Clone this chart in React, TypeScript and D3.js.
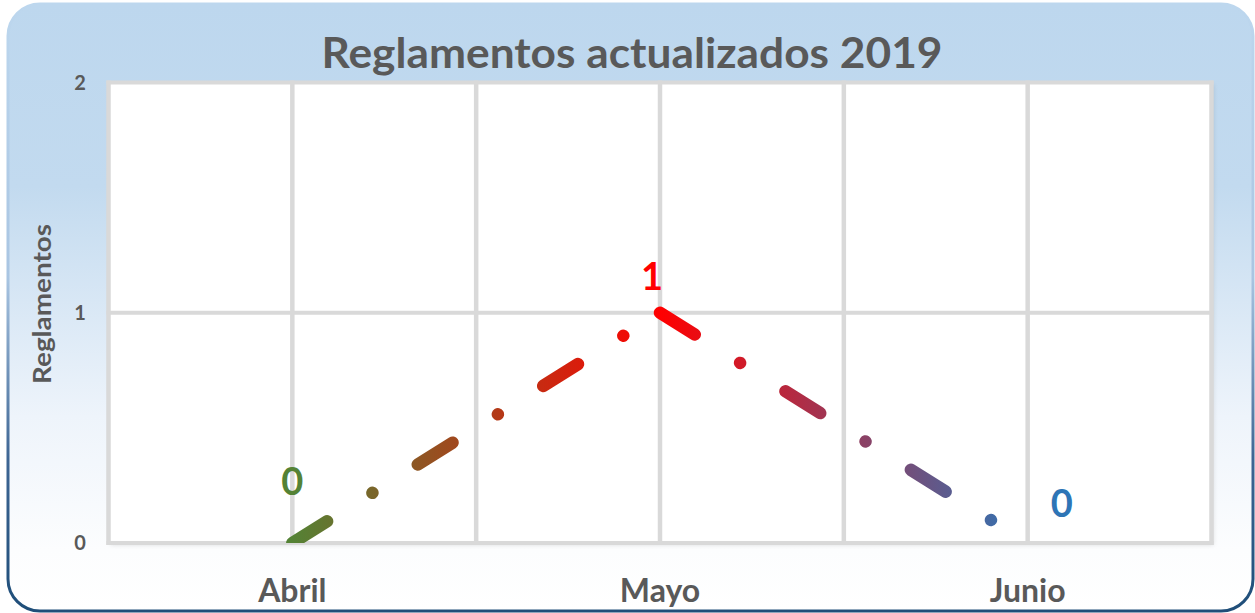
import React from 'react';
import * as d3 from 'd3';

// chart data
const categories = ['Abril', 'Mayo', 'Junio'];
const values = [0, 1, 0];
const yTicks = [0, 1, 2];
const gradientColors = ['#548235', '#ff0000', '#2e75b6'];
const title = 'Reglamentos actualizados 2019';
const yTitle = 'Reglamentos';

const W = 1255;
const H = 613;
const plot = { left: 108.5, right: 1211.5, top: 82.5, bottom: 543 };
const FONT = 'Lato, "Open Sans", sans-serif';
const GRAY = '#595959';
const GRID = '#d9d9d9';

// label placement relative to each point (Excel puts them by hand)
const labelOffsets = [
  { dx: 0, dy: -48 },
  { dx: -8, dy: -23 },
  { dx: 34, dy: -26 },
];

const App = () => {
  const x = d3.scaleBand().domain(categories).range([plot.left, plot.right]).padding(0);
  const y = d3.scaleLinear().domain([0, 2]).range([plot.bottom, plot.top]);
  const cx = (c: string) => (x(c) as number) + x.bandwidth() / 2;

  const points: [number, number][] = categories.map((c, i) => [cx(c), y(values[i])]);
  const line = d3.line();
  const segments = d3.pairs(points);

  // vertical gridlines at every half band
  const vLines: number[] = [];
  categories.forEach((c) => {
    vLines.push(x(c) as number);
    vLines.push(cx(c));
  });
  vLines.push(plot.right);

  return (
    <svg width={W} height={H} style={{ position: 'absolute', left: 0, top: 0 }}>
      <defs>
        <linearGradient id="bg" x1="0" y1="0" x2="0" y2="1">
          <stop offset="0" stopColor="#bdd7ee" />
          <stop offset="0.3" stopColor="#c2daef" />
          <stop offset="0.68" stopColor="#eef4fb" />
          <stop offset="0.9" stopColor="#fcfdfe" />
          <stop offset="1" stopColor="#ffffff" />
        </linearGradient>
        <linearGradient id="border" x1="0" y1="0" x2="0" y2="1">
          <stop offset="0" stopColor="#bdd7ee" />
          <stop offset="0.45" stopColor="#a9c5e2" />
          <stop offset="0.75" stopColor="#3d6593" />
          <stop offset="1" stopColor="#1f4e79" />
        </linearGradient>
        <linearGradient
          id="lineGrad"
          gradientUnits="userSpaceOnUse"
          x1={points[0][0]}
          y1={0}
          x2={points[points.length - 1][0]}
          y2={0}
        >
          {gradientColors.map((col, i) => (
            <stop key={i} offset={i / (gradientColors.length - 1)} stopColor={col} />
          ))}
        </linearGradient>
        <clipPath id="plotClip">
          <rect x={plot.left} y={plot.top} width={plot.right - plot.left} height={plot.bottom - plot.top} />
        </clipPath>
        <filter id="shadow" x="-5%" y="-5%" width="110%" height="110%">
          <feDropShadow dx="2" dy="2" stdDeviation="2" floodColor="#000" floodOpacity="0.12" />
        </filter>
      </defs>

      <rect x={8} y={4} width={W - 10} height={H - 6} rx={32} ry={32} fill="url(#bg)" stroke="url(#border)" strokeWidth={3} />

      <text
        x={632}
        y={68}
        textAnchor="middle"
        fontFamily={FONT}
        fontWeight={700}
        fontSize={42}
        fill={GRAY}
        textLength={621}
        lengthAdjust="spacingAndGlyphs"
      >
        {title}
      </text>

      {/* plot area */}
      <rect
        x={plot.left}
        y={plot.top}
        width={plot.right - plot.left}
        height={plot.bottom - plot.top}
        fill="#fff"
        filter="url(#shadow)"
      />
      {yTicks.map((t) => (
        <line key={'h' + t} x1={plot.left - 2} x2={plot.right + 2} y1={y(t)} y2={y(t)} stroke={GRID} strokeWidth={4} />
      ))}
      {vLines.map((v, i) => (
        <line key={'v' + i} x1={v} x2={v} y1={plot.top - 2} y2={plot.bottom + 2} stroke={GRID} strokeWidth={4.5} />
      ))}

      {yTicks.map((t) => (
        <text
          key={'yt' + t}
          x={80}
          y={y(t)}
          dy="0.36em"
          textAnchor="middle"
          fontFamily={FONT}
          fontWeight={700}
          fontSize={20}
          fill={GRAY}
        >
          {t}
        </text>
      ))}

      <text
        transform="translate(51, 304) rotate(-90)"
        textAnchor="middle"
        fontFamily={FONT}
        fontWeight={700}
        fontSize={24}
        fill={GRAY}
        textLength={160}
        lengthAdjust="spacingAndGlyphs"
      >
        {yTitle}
      </text>

      {categories.map((c) => (
        <text
          key={c}
          x={cx(c)}
          y={602}
          textAnchor="middle"
          fontFamily={FONT}
          fontWeight={700}
          fontSize={32}
          fill={GRAY}
        >
          {c}
        </text>
      ))}

      {/* series, pattern restarts at every point like Excel */}
      <g clipPath="url(#plotClip)">
        {segments.map((seg, i) => (
          <path
            key={i}
            d={line(seg) as string}
            fill="none"
            stroke="url(#lineGrad)"
            strokeWidth={12.5}
            strokeLinecap="round"
            strokeDasharray="41 53.5 0.01 53.5"
          />
        ))}
      </g>

      {values.map((v, i) => (
        <text
          key={'l' + i}
          x={points[i][0] + labelOffsets[i].dx}
          y={points[i][1] + labelOffsets[i].dy}
          textAnchor="middle"
          fontFamily={FONT}
          fontWeight={700}
          fontSize={38}
          fill={gradientColors[i]}
        >
          {v}
        </text>
      ))}
    </svg>
  );
};

export default App;
